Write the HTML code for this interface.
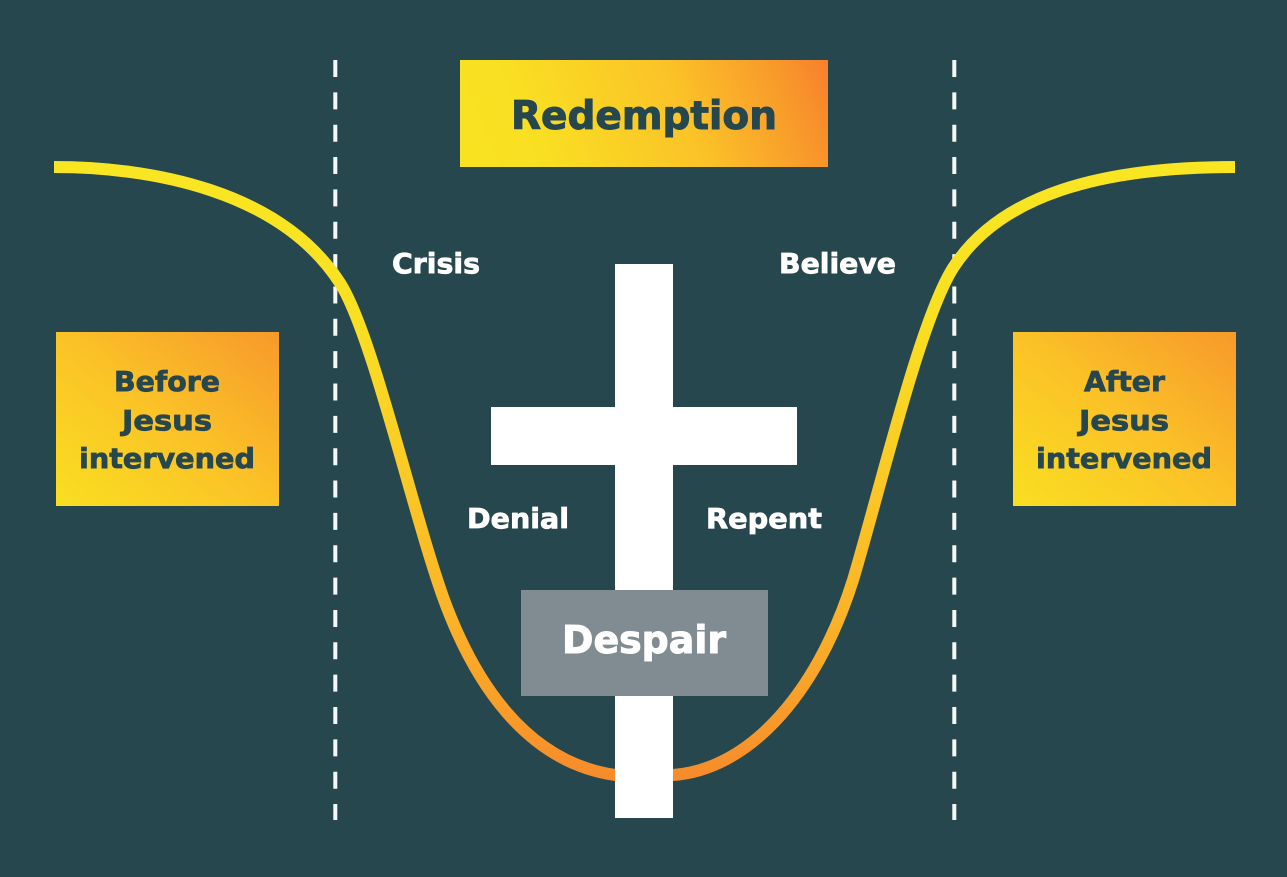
<!DOCTYPE html>
<html>
<head>
<meta charset="utf-8">
<style>
html,body{margin:0;padding:0;background:#27474e;}
svg{display:block;}
text{font-family:"DejaVu Sans","Liberation Sans",sans-serif;font-weight:700;}
</style>
</head>
<body>
<svg width="1287" height="877" viewBox="0 0 1287 877" xmlns="http://www.w3.org/2000/svg">
<defs>
<linearGradient id="g1" gradientUnits="userSpaceOnUse" x1="480" y1="200" x2="828" y2="60">
<stop offset="0" stop-color="#f9e321"/>
<stop offset="0.2" stop-color="#f9df22"/>
<stop offset="0.6" stop-color="#fbc228"/>
<stop offset="0.88" stop-color="#f8962b"/>
<stop offset="1" stop-color="#f87f2d"/>
</linearGradient>
<linearGradient id="g2" x1="0" y1="1" x2="1" y2="0">
<stop offset="0" stop-color="#f9df20"/>
<stop offset="0.5" stop-color="#fbc227"/>
<stop offset="1" stop-color="#f7992b"/>
</linearGradient>
<linearGradient id="c" gradientUnits="userSpaceOnUse" x1="0" y1="160" x2="0" y2="780">
<stop offset="0" stop-color="#f9e622"/>
<stop offset="0.25" stop-color="#f9e022"/>
<stop offset="0.5" stop-color="#fbca25"/>
<stop offset="0.75" stop-color="#fbb128"/>
<stop offset="1" stop-color="#f68b2a"/>
</linearGradient>
</defs>
<rect width="1287" height="877" fill="#27474e"/>
<path d="M335.300 60V820M954.300 60V820" stroke="#f4f7f7" stroke-width="4" stroke-dasharray="17 15.350" fill="none"/>
<rect x="460" y="60" width="368" height="107" fill="url(#g1)"/>
<text x="511" y="129" font-size="39" fill="#27474e" stroke="#27474e" stroke-width="1" textLength="266" lengthAdjust="spacingAndGlyphs">Redemption</text>
<rect x="56" y="332" width="223" height="174" fill="url(#g2)"/>
<g font-size="28" fill="#27474e" stroke="#27474e" stroke-width="0.8">
<text x="114" y="391" textLength="106" lengthAdjust="spacingAndGlyphs">Before</text>
<text x="122" y="430" textLength="90" lengthAdjust="spacingAndGlyphs">Jesus</text>
<text x="79" y="468" textLength="176" lengthAdjust="spacingAndGlyphs">intervened</text>
</g>
<rect x="1013" y="332" width="223" height="174" fill="url(#g2)"/>
<g font-size="28" fill="#27474e" stroke="#27474e" stroke-width="0.8">
<text x="1084" y="391" textLength="81" lengthAdjust="spacingAndGlyphs">After</text>
<text x="1079" y="430" textLength="90" lengthAdjust="spacingAndGlyphs">Jesus</text>
<text x="1036" y="468" textLength="176" lengthAdjust="spacingAndGlyphs">intervened</text>
</g>
<path d="M54 167C150 167 280 190 340 283C372 333 412 510 443 597C473 680 525 762 615 775Q644 779 673 775C745 770 815 700 853 580C880 490 920 320 953 268C1000 195 1100 167 1235 167" fill="none" stroke="url(#c)" stroke-width="12"/>
<rect x="615" y="264" width="58" height="554" fill="#fff"/>
<rect x="491" y="407" width="306" height="58" fill="#fff"/>
<rect x="521" y="590" width="247" height="106" fill="#808c91"/>
<text x="562" y="653" font-size="38" fill="#fff" stroke="#fff" stroke-width="1" textLength="164" lengthAdjust="spacingAndGlyphs">Despair</text>
<g font-size="28" fill="#fff" stroke="#fff" stroke-width="0.8">
<text x="392" y="273" textLength="88" lengthAdjust="spacingAndGlyphs">Crisis</text>
<text x="779" y="273" textLength="117" lengthAdjust="spacingAndGlyphs">Believe</text>
<text x="467" y="528" textLength="102" lengthAdjust="spacingAndGlyphs">Denial</text>
<text x="706" y="528" textLength="116" lengthAdjust="spacingAndGlyphs">Repent</text>
</g>
</svg>
</body>
</html>
